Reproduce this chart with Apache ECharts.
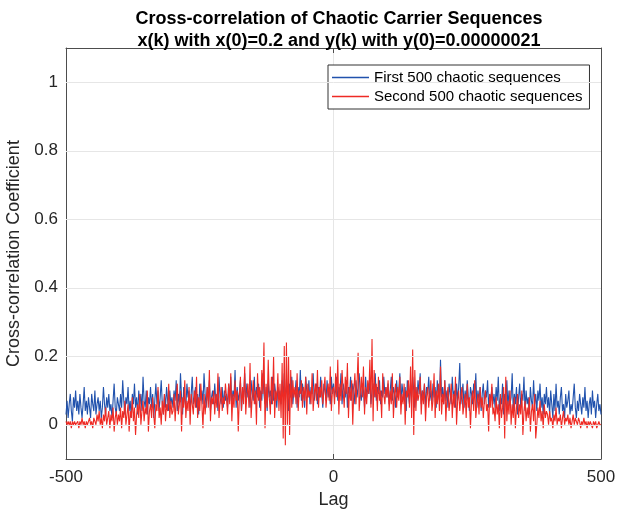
<!DOCTYPE html>
<html><head><meta charset="utf-8">
<script src="https://cdn.jsdelivr.net/npm/echarts@6/dist/echarts.min.js"></script>
<style>html,body{margin:0;padding:0;background:#fff}#c{width:625px;height:518px}</style>
</head><body><div id="c"></div>
<script>
// Lag range (step 2)
const lagStart = -500, lagEnd = 500, lagStep = 2;
const xTicks = [-500, 0, 500];
const yTicks = [0, 0.2, 0.4, 0.6, 0.8, 1];
const seriesNames = ['First 500 chaotic sequences', 'Second 500 chaotic sequences'];

// First 500 chaotic sequences (values at lag -500, -498, ..., 500)
const firstSeq = [
.03,.07,.02,.06,.09,.04,.01,.08,.05,.10,
.04,.07,.03,.09,.05,.02,.06,.11,.04,.07,
.03,.08,.05,.02,.09,.06,.04,.10,.03,.06,
.08,.04,.07,.02,.05,.11,.06,.03,.08,.05,
.09,.04,.06,.02,.07,.12,.05,.03,.08,.06,
.04,.09,.05,.13,.07,.03,.08,.06,.11,.04,
.07,.02,.09,.06,.12,.05,.08,.03,.10,.06,
.09,.04,.14,.07,.05,.10,.03,.08,.06,.11,
.05,.09,.02,.07,.12,.06,.10,.04,.08,.13,
.06,.03,.09,.05,.11,.07,.04,.10,.06,.08,
.05,.10,.07,.13,.04,.09,.06,.15,.08,.03,
.11,.07,.05,.12,.08,.10,.04,.09,.14,.06,
.08,.11,.05,.09,.03,.12,.07,.10,.06,.15,
.09,.05,.11,.07,.13,.04,.08,.10,.06,.12,
.07,.09,.04,.14,.08,.06,.11,.05,.10,.07,
.09,.05,.12,.07,.14,.06,.10,.08,.16,.05,
.11,.07,.09,.13,.04,.10,.08,.15,.06,.12,
.08,.10,.05,.13,.09,.07,.14,.06,.11,.08,
.12,.05,.10,.07,.15,.09,.06,.11,.04,.13,
.08,.10,.06,.14,.07,.12,.09,.05,.11,.08,
.10,.06,.13,.08,.15,.07,.11,.09,.04,.12,
.08,.14,.06,.10,.09,.13,.05,.11,.08,.16,
.07,.12,.09,.05,.14,.10,.08,.13,.06,.11,
.09,.15,.07,.10,.12,.06,.11,.08,.14,.09,
.05,.12,.10,.07,.13,.08,.11,.06,.14,.09,
.12,.08,.10,.14,.07,.11,.09,.15,.06,.12,
.10,.08,.13,.05,.11,.09,.14,.07,.12,.10,
.06,.13,.08,.11,.15,.09,.07,.12,.10,.05,
.14,.08,.11,.09,.13,.06,.10,.12,.08,.15,
.07,.11,.09,.13,.06,.10,.08,.14,.09,.11,
.08,.12,.06,.10,.14,.07,.11,.09,.05,.13,
.08,.10,.15,.06,.12,.09,.07,.11,.04,.13,
.09,.06,.12,.08,.14,.10,.05,.11,.07,.13,
.09,.15,.06,.10,.08,.12,.05,.11,.09,.14,
.07,.10,.06,.12,.08,.11,.05,.13,.09,.07,
.19,.08,.11,.06,.13,.07,.10,.05,.12,.09,
.06,.14,.08,.10,.05,.12,.07,.11,.18,.06,
.09,.12,.05,.10,.07,.13,.08,.04,.11,.09,
.06,.12,.08,.15,.05,.10,.07,.11,.04,.09,
.12,.06,.10,.08,.13,.05,.09,.07,.11,.06,
.09,.05,.11,.07,.14,.04,.08,.06,.12,.03,
.09,.07,.13,.05,.10,.06,.08,.15,.04,.09,
.06,.11,.03,.08,.12,.05,.09,.07,.14,.04,
.10,.06,.08,.03,.11,.07,.05,.13,.06,.09,
.04,.10,.07,.12,.05,.08,.03,.09,.06,.11,
.05,.08,.03,.10,.06,.02,.09,.04,.12,.05,
.07,.03,.08,.11,.04,.06,.02,.09,.05,.07,
.10,.03,.06,.04,.08,.12,.05,.02,.07,.04,
.09,.06,.03,.08,.05,.11,.04,.07,.02,.06,
.08,.03,.10,.05,.07,.02,.06,.09,.04,.06,
.03
];

// Second 500 chaotic sequences (values at lag -500, -498, ..., 500)
const secondSeq = [
.01,.00,.01,.00,.01,-.01,.01,.00,.01,.00,
.00,.01,-.01,.01,.00,.02,.00,.01,-.01,.01,
.00,.01,.02,.00,.01,-.01,.02,.01,.00,.03,
.01,.04,.00,.02,-.01,.03,.01,.05,.00,.02,
.04,-.01,.03,.01,.05,-.02,.02,.04,.00,.03,
.01,.05,-.01,.04,.02,.07,.00,.03,.06,-.02,
.04,.02,.08,.01,.05,-.03,.03,.06,.02,.09,
.00,.04,.07,.01,.05,.03,.10,-.02,.04,.06,
.02,.08,.03,-.01,.06,.04,.11,.02,.05,.00,
.07,.03,.09,.01,.06,.04,.12,.02,.07,.03,
.04,.09,.01,.07,.12,.03,.06,.10,-.02,.08,
.05,.13,.02,.07,.04,.11,.00,.09,.06,.03,
.10,.05,.14,.02,.08,.04,.12,.06,-.01,.09,
.03,.07,.11,.05,.16,.01,.08,.06,.10,.03,
.09,.05,.15,.02,.07,.11,.04,.08,.06,.12,
.08,.03,.12,.06,.15,.01,.09,.05,.13,.07,
.10,-.02,.08,.14,.04,.11,.06,.17,.03,.09,
.12,.05,.18,.02,.08,.13,.06,.10,.00,.15,
.07,.11,.04,.16,.09,.24,-.01,.12,.05,.19,
.08,.03,.14,.06,.20,.02,.10,.07,.15,.04,
.12,.02,.18,-.04,.23,-.06,.24,.00,.20,-.03,
.16,.05,.13,.08,.11,.06,.15,.04,.10,.09,
.13,.05,.11,.07,.14,.03,.12,.08,.10,.06,
.15,.04,.09,.12,.07,.16,.05,.11,.08,.13,
.06,.10,.14,.05,.09,.12,.07,.17,.04,.10,
.11,.06,.15,.08,.19,.03,.12,.07,.16,.10,
.05,.14,.09,.18,.02,.11,.07,.13,.00,.10,
.15,.06,.12,.21,.04,.09,.14,.08,.17,.03,
.11,.06,.13,.09,.19,.05,.25,.01,.16,.08,
.12,.04,.14,.07,.10,.02,.15,.09,.06,.11,
.08,.13,.04,.10,.06,.15,.02,.09,.12,.05,
.11,.07,.14,.03,.09,.06,.12,.00,.10,.08,
.13,.05,.17,.02,.22,-.03,.16,.04,.11,.07,
.09,.14,.03,.10,.06,.12,.01,.08,.11,.05,
.09,.13,.04,.07,.15,.02,.10,.06,.12,.04,
.17,.03,.09,.06,.13,.01,.08,.11,.04,.07,
.12,.02,.09,.05,.14,.00,.07,.10,.04,.08,
.11,.03,.06,.09,.02,.12,.05,.08,-.01,.07,
.10,.04,.13,.02,.06,.09,.03,.11,.05,.08,
.02,.07,.10,.04,.06,-.02,.09,.05,.12,.03,
.05,.01,.08,.03,.06,-.01,.09,.02,.05,.11,
-.04,.14,.01,.07,.03,.10,.00,.06,.02,.08,
-.01,.05,.09,.02,.06,.03,.10,-.03,.04,.07,
.01,.05,.02,.08,-.02,.04,.06,.01,.09,-.04,
.00,.05,.02,.07,.01,.04,-.01,.06,.02,.04,
.03,.00,.04,.01,.02,-.01,.03,.01,.05,.00,
.02,.01,.03,-.01,.02,.04,.00,.02,.01,.03,
.00,.02,-.01,.01,.03,.00,.02,.01,.00,.02,
.01,-.01,.01,.00,.02,.00,.01,-.01,.01,.00,
.01,.00,-.01,.01,.00,.01,-.01,.00,.01,.00,
.00
];

const lags = [];
for (let l = lagStart; l <= lagEnd; l += lagStep) lags.push(l);
const pairs = arr => lags.map((l, i) => [l, arr[i]]);

const txt = '#262626';
const axisCol = '#4d4d4d';
const gridCol = '#e6e6e6';
const font = 'Liberation Sans, Arial, Helvetica, sans-serif';

const chart = echarts.init(document.getElementById('c'), null, {renderer: 'canvas'});
chart.setOption({
  animation: false,
  backgroundColor: '#fff',
  title: {
    text: 'Cross-correlation of Chaotic Carrier Sequences\nx(k) with x(0)=0.2 and y(k) with y(0)=0.00000021',
    left: 334, top: 3, textAlign: 'center',
    textStyle: {fontFamily: font, fontSize: 18, fontWeight: 'bold', color: '#000', lineHeight: 22}
  },
  legend: {
    left: 328, top: 65, orient: 'vertical',
    backgroundColor: '#fff', borderColor: '#333', borderWidth: 1,
    padding: [5, 7, 5, 4], itemGap: 4,
    itemWidth: 37, itemHeight: 1.5, icon: 'rect',
    textStyle: {fontFamily: font, fontSize: 15, color: '#000'},
    data: seriesNames
  },
  grid: {left: 66, right: 24, top: 48, bottom: 59, containLabel: false, outerBoundsMode: 'none'},
  xAxis: [{
    type: 'value', min: -500, max: 500, interval: 500,
    name: 'Lag', nameLocation: 'middle', nameGap: 29,
    nameTextStyle: {fontFamily: font, fontSize: 18, color: txt},
    axisLine: {onZero: false, lineStyle: {color: axisCol, width: 1}},
    axisTick: {inside: true, length: 5, lineStyle: {color: axisCol}},
    axisLabel: {margin: 10, fontFamily: font, fontSize: 17, color: txt},
    splitLine: {show: true, lineStyle: {color: gridCol, width: 1}}
  }, {
    type: 'value', position: 'top', min: -500, max: 500, interval: 500,
    axisLine: {onZero: false, lineStyle: {color: axisCol, width: 1}},
    axisTick: {inside: true, length: 5, lineStyle: {color: axisCol}},
    axisLabel: {show: false}, splitLine: {show: false}
  }],
  yAxis: [{
    type: 'value', min: -0.1, max: 1.1,
    name: 'Cross-correlation Coefficient', nameLocation: 'middle', nameGap: 37,
    nameTextStyle: {fontFamily: font, fontSize: 18, color: txt},
    axisLine: {show: true, onZero: false, lineStyle: {color: axisCol, width: 1}},
    axisTick: {show: true, inside: true, length: 5, customValues: yTicks, lineStyle: {color: axisCol}},
    axisLabel: {margin: 8, fontFamily: font, fontSize: 17, color: txt, customValues: yTicks,
      formatter: v => String(Math.round(v * 10) / 10)},
    splitLine: {show: false}
  }, {
    type: 'value', position: 'right', min: -0.1, max: 1.1,
    axisLine: {show: true, onZero: false, lineStyle: {color: axisCol, width: 1}},
    axisTick: {show: true, inside: true, length: 5, customValues: yTicks, lineStyle: {color: axisCol}},
    axisLabel: {show: false, customValues: yTicks}, splitLine: {show: false}
  }],
  series: [{
    name: seriesNames[0], type: 'line', xAxisIndex: 0, yAxisIndex: 0,
    data: pairs(firstSeq), showSymbol: false, symbol: 'none',
    lineStyle: {color: '#2152ad', width: 1.1}, itemStyle: {color: '#2152ad'},
    markLine: {
      silent: true, symbol: 'none', label: {show: false},
      lineStyle: {color: gridCol, width: 1, type: 'solid'},
      data: yTicks.map(v => ({yAxis: v}))
    },
    z: 2
  }, {
    name: seriesNames[1], type: 'line', xAxisIndex: 0, yAxisIndex: 0,
    data: pairs(secondSeq), showSymbol: false, symbol: 'none',
    lineStyle: {color: '#ee2a24', width: 1.1}, itemStyle: {color: '#ee2a24'},
    z: 3
  }]
});
</script></body></html>
